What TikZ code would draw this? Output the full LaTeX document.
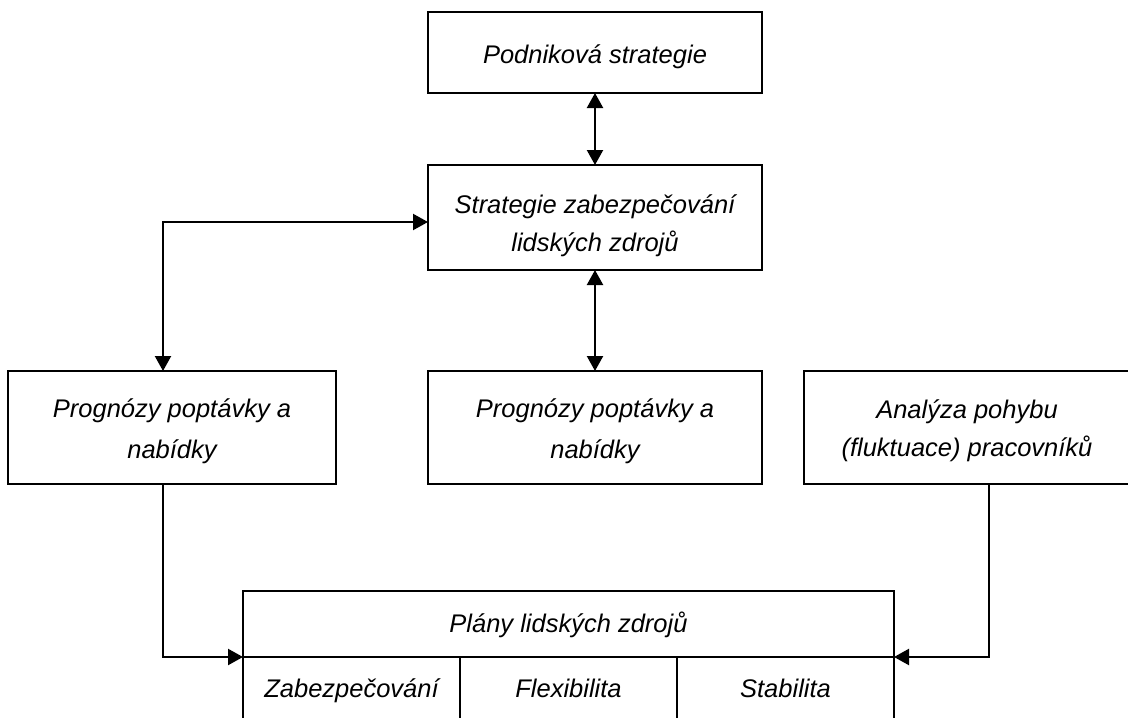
\documentclass[tikz,border=0pt]{standalone}
\usepackage{fontspec}
\newfontfamily\lblfont{Liberation Sans}
\usetikzlibrary{arrows.meta}
% one line of text, its baseline set #1 above the node centre
\newcommand\lblone[2]{\raisebox{#1}[0pt][0pt]{#2}}
% two centred lines, the last baseline set #1 above the node centre
\newcommand\lbltwo[3]{\raisebox{#1}[0pt][0pt]{\begin{tabular}[b]{@{}c@{}}#2\\#3\end{tabular}}}
\begin{document}
\begin{tikzpicture}[x=1pt,y=-1pt,
  lbl/.style={font=\lblfont\itshape\fontsize{25.5}{#1}\selectfont, text=black},
  lbl/.default=33,
  box/.style={lbl=#1, draw, line width=2pt, inner sep=0pt, outer sep=0pt},
  box/.default=33,
  plain/.style={lbl=#1, inner sep=0pt, outer sep=0pt},
  tip/.tip={Triangle[length=15pt,width=16pt]},
  link/.style={line width=2.2pt, -tip},
  biline/.style={line width=2.2pt, tip-tip}]
\useasboundingbox (0,0) rectangle (1128,718);
\clip (0,0) rectangle (1128,718);

% strategy level
\node[box, minimum width=334pt, minimum height=81pt] (corp) at (595,52.5)
  {\lblone{-10.5pt}{Podniková strategie}};
\node[box=38, minimum width=334pt, minimum height=105pt] (hrs) at (595,217.5)
  {\lbltwo{-33.5pt}{Strategie zabezpečování}{lidských zdrojů}};

% analyses
\node[box=40.5, minimum width=328pt, minimum height=113pt] (progL) at (172,427.5)
  {\lbltwo{-30.8pt}{Prognózy poptávky a}{nabídky}};
\node[box=40.5, minimum width=334pt, minimum height=113pt] (progM) at (595,427.5)
  {\lbltwo{-30.8pt}{Prognózy poptávky a}{nabídky}};
\node[plain=38.7, minimum width=326pt, minimum height=113pt] (move) at (967,427.5)
  {\lbltwo{-29.2pt}{Analýza pohybu}{(fluktuace) pracovníků}};
\draw[line width=2pt] (move.north west) rectangle ([xshift=30pt]move.south east);

% plans of human resources
\node[box, minimum width=651pt, minimum height=66pt] (plans) at (568.5,624)
  {\lblone{-8pt}{Plány lidských zdrojů}};
\node[box, minimum width=217pt, minimum height=66pt, anchor=north west] (c1) at (plans.south west)
  {\lblone{-7pt}{Zabezpečování}};
\node[box, minimum width=217pt, minimum height=66pt, anchor=north west] (c2) at (c1.north east)
  {\lblone{-7pt}{Flexibilita}};
\node[box, minimum width=217pt, minimum height=66pt, anchor=north west] (c3) at (c2.north east)
  {\lblone{-7pt}{Stabilita}};

% connectors
\draw[biline] (corp.south) -- (hrs.north);
\draw[biline] (hrs.south) -- (progM.north);
\draw[biline] ([yshift=-4.5pt]hrs.west) -| ([xshift=-9pt]progL.north);
\draw[link] ([xshift=-9pt]progL.south) |- (plans.south west);
\draw[link] ([xshift=22pt]move.south) |- (plans.south east);
\end{tikzpicture}
\end{document}
